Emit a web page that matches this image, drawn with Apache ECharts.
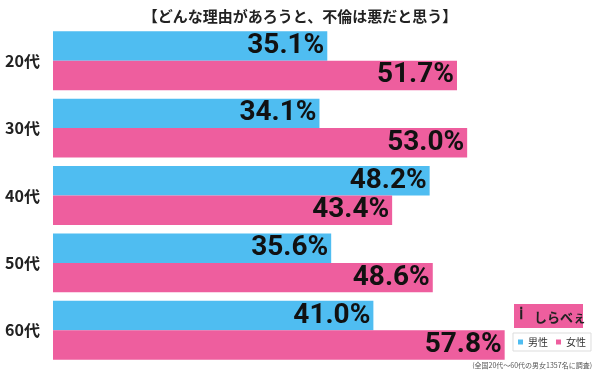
<!DOCTYPE html>
<html>
<head>
<meta charset="utf-8">
<script src="https://cdn.jsdelivr.net/npm/echarts@6/dist/echarts.min.js"></script>
<style>
  html, body { margin: 0; padding: 0; background: #fff; }
  #chart { width: 600px; height: 376px; }
</style>
</head>
<body>
<div id="chart"></div>
<script>
// 年代別データ
const categories = ['20代', '30代', '40代', '50代', '60代'];
const male = [35.1, 34.1, 48.2, 35.6, 41.0];
const female = [51.7, 53.0, 43.4, 48.6, 57.8];

const chart = echarts.init(document.getElementById('chart'));
const font = '"Noto Sans CJK JP", "Noto Sans", sans-serif';

const barLabel = {
  show: true,
  position: 'insideRight',
  distance: 3,
  color: '#111',
  fontSize: 28,
  fontWeight: 'bold',
  fontFamily: 'Roboto, "Liberation Sans", sans-serif',
  formatter: p => p.value.toFixed(1) + '%'
};

chart.setOption({
  animation: false,
  textStyle: { fontFamily: font },
  title: {
    text: '【どんな理由があろうと、不倫は悪だと思う】',
    left: 'center',
    top: 4,
    textStyle: { fontSize: 15, fontWeight: 'bold', color: '#222' }
  },
  legend: {
    data: ['男性', '女性'],
    left: 513,
    top: 333,
    icon: 'rect',
    itemWidth: 5,
    itemHeight: 5,
    itemGap: 8,
    padding: [4, 5],
    borderColor: '#ddd',
    borderWidth: 1,
    textStyle: { fontSize: 10, color: '#333' }
  },
  grid: {
    left: 53,
    right: 0,
    top: 27,
    bottom: 12
  },
  xAxis: {
    type: 'value',
    min: 0,
    max: 70,
    show: false
  },
  yAxis: {
    type: 'category',
    data: categories,
    inverse: true,
    axisLine: { show: false },
    axisTick: { show: false },
    axisLabel: {
      margin: 13,
      fontSize: 16,
      fontWeight: 'bold',
      color: '#222'
    }
  },
  series: [
    {
      name: '男性',
      type: 'bar',
      data: male,
      barGap: 0,
      barCategoryGap: '12.6%',
      itemStyle: { color: '#4FBDF1' },
      label: barLabel
    },
    {
      name: '女性',
      type: 'bar',
      data: female,
      itemStyle: { color: '#EE5E9E' },
      label: barLabel
    }
  ],
  graphic: [
    {
      // ロゴ
      type: 'group',
      left: 514,
      top: 304,
      children: [
        { type: 'rect', shape: { x: 0, y: 0, width: 69, height: 24 }, style: { fill: '#EE5E9E' } },
        { type: 'text', style: { x: 5, y: 3, text: 'ⅰ', fill: '#222', fontSize: 16, fontWeight: 'bold' } },
        { type: 'text', style: { x: 20, y: 7, text: 'しらべぇ', fill: '#222', fontSize: 13, fontWeight: 'bold', fontFamily: font } }
      ]
    },
    {
      type: 'text',
      right: 8,
      top: 362,
      style: { text: '(全国20代～60代の男女1357名に調査)', fill: '#555', fontSize: 7, fontFamily: font }
    }
  ]
});
</script>
</body>
</html>
